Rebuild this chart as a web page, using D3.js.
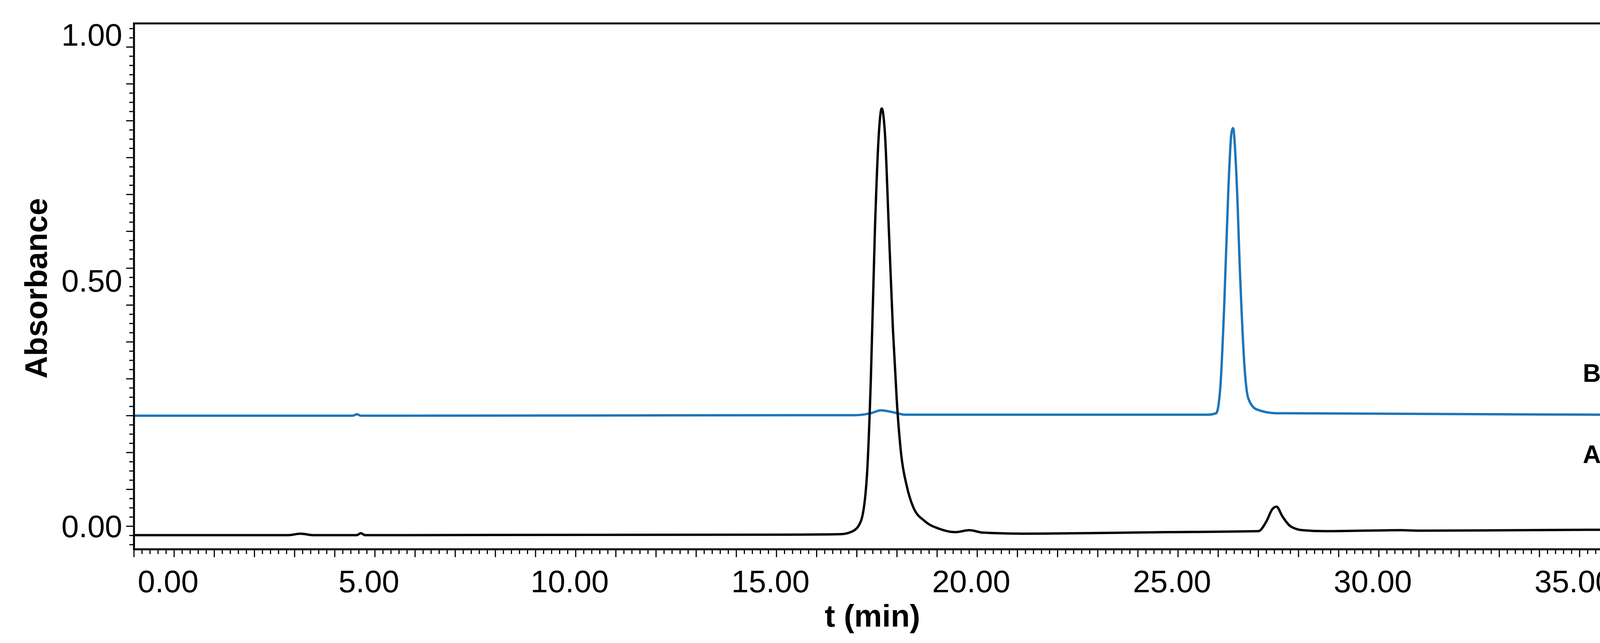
<!DOCTYPE html>
<html><head><meta charset="utf-8">
<script src="https://cdn.jsdelivr.net/npm/d3@7"></script>
<style>body{margin:0;background:#fff}</style></head>
<body><svg id="c" width="4177" height="1647"></svg>
<script>
const timesA = [-0.85,3.0,3.3,3.6,4.7,4.8,4.9,15.5,16.75,17.05,17.25,17.4,17.5,17.6,17.7,17.77,17.85,17.95,18.05,18.15,18.25,18.4,18.55,18.85,19.2,19.6,19.95,20.3,21.3,24.9,27.15,27.35,27.5,27.6,27.75,27.95,28.25,28.8,30.7,31.2,35.93];
const valuesA = [-0.018,-0.018,-0.015,-0.018,-0.018,-0.014,-0.018,-0.017,-0.016,-0.01,0.01,0.1,0.3,0.6,0.8,0.85,0.8,0.6,0.4,0.25,0.15,0.08,0.04,0.01,-0.005,-0.012,-0.008,-0.013,-0.015,-0.012,-0.01,0.01,0.035,0.04,0.02,0.0,-0.008,-0.01,-0.008,-0.009,-0.007];
const timesB = [-0.85,4.6,4.7,4.8,17.1,17.5,17.75,18.05,18.35,25.9,26.1,26.2,26.3,26.4,26.48,26.52,26.6,26.7,26.8,26.9,27.1,27.6,35.93];
const valuesB = [0.225,0.225,0.228,0.225,0.226,0.23,0.236,0.232,0.227,0.227,0.23,0.28,0.45,0.68,0.8,0.81,0.72,0.5,0.33,0.26,0.238,0.23,0.227];
const xTickLabels = ["0.00","5.00","10.00","15.00","20.00","25.00","30.00","35.00"];
const yTickLabels = ["0.00","0.50","1.00"];
const seriesLabels = ["A","B"];

const svg = d3.select("#c");
const L=343,R=4124,T=60,B=1407;
const x = d3.scaleLinear().domain([-0.85,35.93]).range([L,R]);
const y = d3.scaleLinear().domain([0,1]).range([1348,89]);
const font="Liberation Sans, Arial, sans-serif";

const xt = d3.range(-0.85,35.95,0.2);
svg.append("g").selectAll("line").data(xt).join("line")
 .attr("x1",d=>x(d)).attr("x2",d=>x(d)).attr("y1",B)
 .attr("y2",(d,i)=> i%5===0?B+20:B+12).attr("stroke","#000").attr("stroke-width",3);
svg.append("g").selectAll("text").data(xTickLabels).join("text")
 .attr("x",d=>x(+d)).attr("y",B+110).attr("text-anchor","middle")
 .attr("font-family",font).attr("font-size",80).text(d=>d);
const yt = d3.range(-0.0375,1.02,0.01875);
svg.append("g").selectAll("line").data(yt).join("line")
 .attr("y1",d=>y(d)).attr("y2",d=>y(d)).attr("x1",L)
 .attr("x2",(d,i)=> (i-2)%4===0?L-20:L-12).attr("stroke","#000").attr("stroke-width",3);
svg.append("g").selectAll("text").data(yTickLabels).join("text")
 .attr("x",L-30).attr("y",d=>y(+d)+28).attr("text-anchor","end")
 .attr("font-family",font).attr("font-size",80).text(d=>d);

const line = d3.line().x(d=>x(d[0])).y(d=>y(d[1])).curve(d3.curveMonotoneX);
svg.append("path").datum(d3.zip(timesB,valuesB)).attr("d",line)
 .attr("fill","none").attr("stroke","#1b75bb").attr("stroke-width",6);
svg.append("path").datum(d3.zip(timesA,valuesA)).attr("d",line)
 .attr("fill","none").attr("stroke","#000").attr("stroke-width",6);

svg.append("rect").attr("x",L).attr("y",T).attr("width",R-L).attr("height",B-T)
 .attr("fill","none").attr("stroke","#000").attr("stroke-width",5);

svg.append("text").attr("x",4075).attr("y",1186).attr("text-anchor","middle")
 .attr("font-family",font).attr("font-weight","bold").attr("font-size",64).text(seriesLabels[0]);
svg.append("text").attr("x",4075).attr("y",978).attr("text-anchor","middle")
 .attr("font-family",font).attr("font-weight","bold").attr("font-size",64).text(seriesLabels[1]);

svg.append("text").attr("x",(L+R)/2).attr("y",1605).attr("text-anchor","middle")
 .attr("font-family",font).attr("font-weight","bold").attr("font-size",80).text("t (min)");
svg.append("text").attr("transform","translate(120,"+(y(0.5)+20)+") rotate(-90)").attr("text-anchor","middle")
 .attr("font-family",font).attr("font-weight","bold").attr("font-size",80).text("Absorbance");
</script></body></html>
